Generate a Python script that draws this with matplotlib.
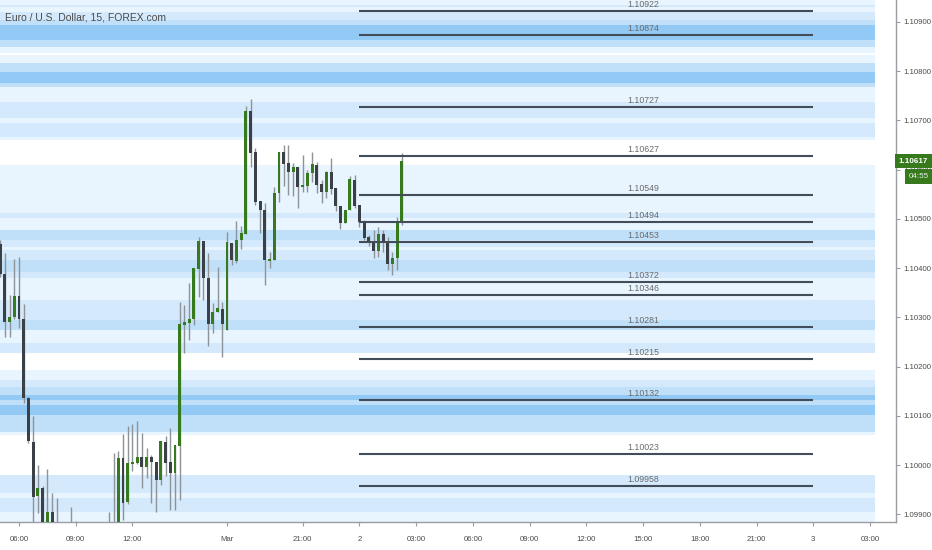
import numpy as np
import pandas as pd
import matplotlib
matplotlib.use('Agg')
import matplotlib.pyplot as plt
import matplotlib.transforms as mtransforms

plt.rcParams['font.family'] = ['Liberation Sans', 'DejaVu Sans']

# 15 min candles, first bar = Fri 28 Feb 05:00
opens = [1.10449, 1.10388, 1.10291, 1.10301, 1.10343, 1.10297, 1.10136, 1.10047, 1.09937, 1.09954,
         1.09866, 1.09905, 1.09875, 1.09860, 1.09868, 1.09855, 1.09870, 1.09860, 1.09850, 1.09858,
         1.09846, 1.09855, 1.09848, 1.09862, 1.09875, 1.09868, 1.10015, 1.09925, 1.10002, 1.10004,
         1.10017, 1.09996, 1.10017, 1.10006, 1.09970, 1.10047, 1.10006, 1.09984, 1.10039, 1.10285,
         1.10289, 1.10297, 1.10398, 1.10455, 1.10380, 1.10287, 1.10311, 1.10317, 1.10274, 1.10451,
         1.10414, 1.10457, 1.10469, 1.10719, 1.10636, 1.10536, 1.10518, 1.10414, 1.10417, 1.10553,
         1.10636, 1.10613, 1.10595, 1.10605, 1.10565, 1.10567, 1.10593, 1.10609, 1.10571, 1.10555,
         1.10595, 1.10563, 1.10526, 1.10492, 1.10518, 1.10579, 1.10528, 1.10494, 1.10463, 1.10453,
         1.10435, 1.10469, 1.10453, 1.10408, 1.10421, 1.10492]
highs = [1.10457, 1.10431, 1.10345, 1.10419, 1.10423, 1.10327, 1.10138, 1.10100, 1.10000, 1.09958,
         1.09992, 1.09944, 1.09933, 1.09878, 1.09880, 1.09915, 1.09887, 1.09872, 1.09866, 1.09874,
         1.09862, 1.09870, 1.09878, 1.09905, 1.10025, 1.10029, 1.10063, 1.10080, 1.10084, 1.10090,
         1.10065, 1.10035, 1.10021, 1.10006, 1.10049, 1.10059, 1.10075, 1.10041, 1.10331, 1.10325,
         1.10370, 1.10400, 1.10463, 1.10455, 1.10431, 1.10329, 1.10402, 1.10331, 1.10473, 1.10451,
         1.10496, 1.10486, 1.10729, 1.10743, 1.10644, 1.10536, 1.10532, 1.10433, 1.10565, 1.10636,
         1.10650, 1.10650, 1.10613, 1.10605, 1.10630, 1.10599, 1.10636, 1.10615, 1.10579, 1.10597,
         1.10624, 1.10563, 1.10526, 1.10518, 1.10587, 1.10589, 1.10528, 1.10498, 1.10467, 1.10477,
         1.10484, 1.10477, 1.10463, 1.10433, 1.10504, 1.10634]
lows = [1.10382, 1.10260, 1.10260, 1.10297, 1.10278, 1.10126, 1.10045, 1.09880, 1.09903, 1.09850,
        1.09855, 1.09860, 1.09845, 1.09838, 1.09846, 1.09845, 1.09850, 1.09836, 1.09830, 1.09840,
        1.09828, 1.09838, 1.09840, 1.09850, 1.09855, 1.09860, 1.09889, 1.09921, 1.09988, 1.10002,
        1.09954, 1.09974, 1.09923, 1.09905, 1.09960, 1.09978, 1.09909, 1.09909, 1.09929, 1.10228,
        1.10254, 1.10285, 1.10341, 1.10335, 1.10242, 1.10268, 1.10311, 1.10220, 1.10274, 1.10406,
        1.10410, 1.10439, 1.10469, 1.10605, 1.10528, 1.10471, 1.10366, 1.10400, 1.10417, 1.10534,
        1.10567, 1.10548, 1.10546, 1.10522, 1.10555, 1.10555, 1.10575, 1.10553, 1.10532, 1.10542,
        1.10550, 1.10516, 1.10479, 1.10492, 1.10518, 1.10522, 1.10484, 1.10457, 1.10445, 1.10421,
        1.10423, 1.10433, 1.10396, 1.10386, 1.10396, 1.10488]
closes = [1.10388, 1.10291, 1.10301, 1.10343, 1.10297, 1.10136, 1.10049, 1.09935, 1.09954, 1.09862,
          1.09905, 1.09870, 1.09860, 1.09868, 1.09855, 1.09870, 1.09860, 1.09850, 1.09858, 1.09846,
          1.09855, 1.09848, 1.09862, 1.09875, 1.09868, 1.10015, 1.09923, 1.10004, 1.10006, 1.10017,
          1.09996, 1.10017, 1.10006, 1.09970, 1.10049, 1.10004, 1.09984, 1.10041, 1.10287, 1.10291,
          1.10297, 1.10400, 1.10455, 1.10380, 1.10287, 1.10311, 1.10319, 1.10287, 1.10453, 1.10417,
          1.10457, 1.10471, 1.10719, 1.10634, 1.10534, 1.10518, 1.10417, 1.10419, 1.10553, 1.10636,
          1.10611, 1.10595, 1.10605, 1.10565, 1.10569, 1.10593, 1.10611, 1.10569, 1.10555, 1.10595,
          1.10561, 1.10526, 1.10492, 1.10518, 1.10581, 1.10526, 1.10494, 1.10461, 1.10451, 1.10435,
          1.10469, 1.10451, 1.10408, 1.10421, 1.10492, 1.10617]

levels = [1.10922, 1.10874, 1.10727, 1.10627, 1.10549, 1.10494, 1.10453, 1.10372,
          1.10346, 1.10281, 1.10215, 1.10132, 1.10023, 1.09958]

# background zones: edges (price, top to bottom) and shade 0..5
band_edges = [1.10944, 1.10934, 1.10930, 1.10920, 1.10904, 1.10894, 1.10863, 1.10849, 1.10837, 1.10833,
              1.10816, 1.10798, 1.10776, 1.10768, 1.10737, 1.10705, 1.10695, 1.10666, 1.10660, 1.10609,
              1.10512, 1.10502, 1.10477, 1.10457, 1.10443, 1.10437, 1.10416, 1.10392, 1.10380, 1.10335,
              1.10295, 1.10274, 1.10248, 1.10228, 1.10193, 1.10173, 1.10159, 1.10142, 1.10132, 1.10122,
              1.10102, 1.10067, 1.10061, 1.09980, 1.09944, 1.09933, 1.09905, 1.09885]
band_shade = [1, 2, 1, 2, 3, 5, 3, 1, 0, 1,
              3, 5, 3, 1, 2, 1, 2, 1, 0, 1,
              2, 1, 3, 2, 1, 2, 3, 2, 1, 2,
              3, 1, 2, 0, 1, 2, 3, 5, 3, 5,
              3, 1, 0, 2, 1, 2, 1]

tick_times = ['2020-02-28 06:00', '2020-02-28 09:00', '2020-02-28 12:00', '2020-03-01 17:00',
              '2020-03-01 21:00', '2020-03-02 00:00', '2020-03-02 03:00', '2020-03-02 06:00',
              '2020-03-02 09:00', '2020-03-02 12:00', '2020-03-02 15:00', '2020-03-02 18:00',
              '2020-03-02 21:00', '2020-03-03 00:00', '2020-03-03 03:00']
tick_labels = ['06:00', '09:00', '12:00', 'Mar', '21:00', '2', '03:00', '06:00',
               '09:00', '12:00', '15:00', '18:00', '21:00', '3', '03:00']
price_ticks = [1.099, 1.100, 1.101, 1.102, 1.103, 1.104, 1.105, 1.106, 1.107, 1.108, 1.109]

last_price = 1.10617
countdown = '04:55'
title = 'Euro / U.S. Dollar, 15, FOREX.com'

shade_colors = ['#ffffff', '#e8f4fe', '#d4eafc', '#c0e0fa', '#abd5f8', '#93c9f5']
green = '#377a1d'
dark = '#3b3f46'
wick = '#8e9398'
line_col = '#434d59'
text_col = '#4a4a4a'


def bar_times():
    fri = pd.date_range('2020-02-28 05:00', '2020-02-28 16:45', freq='15min')
    sun = pd.date_range('2020-03-01 17:00', '2020-03-03 06:00', freq='15min')
    return fri.append(sun)


def draw_chart():
    times = bar_times()
    pos_of = {t: i for i, t in enumerate(times)}

    fig = plt.figure(figsize=(9.32, 5.5), dpi=100)
    ax = fig.add_axes([0, 28 / 550, 896 / 932, 522 / 550])

    for i, s in enumerate(band_shade):
        if s == 0:
            continue
        ax.axhspan(band_edges[i + 1], band_edges[i], xmin=0, xmax=875 / 896,
                   color=shade_colors[s], lw=0, zorder=0)

    o = np.array(opens)
    c = np.array(closes)
    x = np.arange(len(o))
    up = c >= o
    ax.vlines(x, lows, highs, color=wick, lw=1, zorder=2)
    body = np.maximum(np.abs(c - o), 0.000018)
    ax.bar(x, body, bottom=np.minimum(o, c), width=0.62,
           color=np.where(up, green, dark), lw=0, zorder=3)

    x0 = pos_of[pd.Timestamp('2020-03-02 00:00')]
    x1 = pos_of[pd.Timestamp('2020-03-03 00:00')]
    ax.hlines(levels, x0, x1, color=line_col, lw=1.5, zorder=4)
    xl = x0 + 0.625 * (x1 - x0)
    for lv in levels:
        ax.annotate(f'{lv:.5f}', (xl, lv), xytext=(0, 1.5), textcoords='offset points',
                    ha='center', va='bottom', fontsize=6.3, color='#6a6a6a', zorder=5)

    ax.set_xlim(-0.02, 189.5)
    ax.set_ylim(1.098846, 1.109443)

    ax.set_xticks([pos_of[pd.Timestamp(t)] for t in tick_times])
    ax.set_xticklabels(tick_labels)
    ax.yaxis.tick_right()
    ax.set_yticks(price_ticks)
    ax.set_yticklabels([f'{p:.5f}' for p in price_ticks])
    ax.tick_params(axis='both', labelsize=5.6, colors='#9a9da1', labelcolor=text_col, length=3, width=0.8)
    ax.tick_params(axis='x', pad=7)
    ax.tick_params(axis='y', pad=2)

    for side in ['top', 'left']:
        ax.spines[side].set_visible(False)
    for side in ['right', 'bottom']:
        ax.spines[side].set_color('#9a9da1')
        ax.spines[side].set_linewidth(1)

    tr = mtransforms.blended_transform_factory(ax.transAxes, ax.transData)
    ax.annotate(f'{last_price:.5f}', (1.0, last_price), xycoords=tr, xytext=(2, 0),
                textcoords='offset points', ha='left', va='center', fontsize=5.8,
                color='white', annotation_clip=False, fontweight='bold',
                bbox=dict(boxstyle='square,pad=0.45', fc=green, ec='none'))
    ax.annotate(countdown, (1.0, last_price), xycoords=tr, xytext=(9.5, -11),
                textcoords='offset points', ha='left', va='center', fontsize=5.8,
                color='#e8f0e4', annotation_clip=False,
                bbox=dict(boxstyle='square,pad=0.55', fc=green, ec='none'))

    fig.text(5 / 932, 1 - 17 / 550, title, fontsize=7.5, color=text_col, va='center', ha='left')

    fig.savefig('out.png', dpi=100)


if __name__ == '__main__':
    draw_chart()
